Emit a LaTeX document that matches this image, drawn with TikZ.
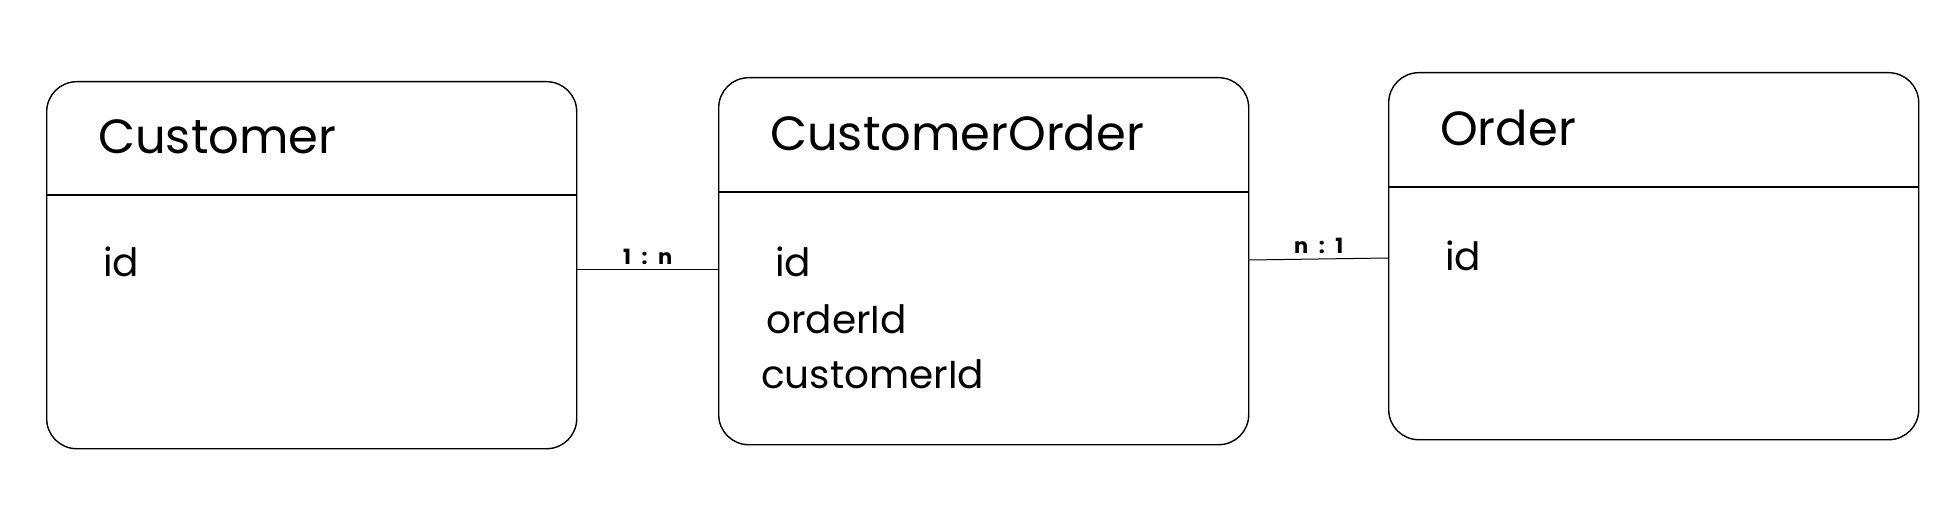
\documentclass[tikz,border=0pt]{standalone}
\usepackage{fontspec}
\setmainfont{Poppins}
\begin{document}
\begin{tikzpicture}[x=1pt,y=-1pt,
  entity/.style={draw=black, line width=1.4pt, rounded corners=30pt, anchor=north west, inner sep=0pt, minimum width=530pt, minimum height=367pt},
  divider/.style={draw=black, line width=1.3pt},
  title/.style={anchor=west, inner sep=0pt, font=\fontsize{48}{56}\selectfont},
  field/.style={anchor=west, inner sep=0pt, font=\fontsize{39}{45}\selectfont},
  link/.style={draw=black, line width=1pt},
  card/.style={inner sep=0pt, font=\fontsize{21}{24}\selectfont\bfseries}]
\useasboundingbox (0,0) rectangle (1950,510);
% boxes
\node[entity] (cust) at (46,81) {};
\node[entity] (co) at (718,77) {};
\node[entity] (ord) at (1388,72) {};
% dividers
\coordinate (custdl) at (46,195); \coordinate (custdr) at (576,195);
\coordinate (codl) at (718,192); \coordinate (codr) at (1248,192);
\coordinate (orddl) at (1388,187); \coordinate (orddr) at (1918,187);
\draw[divider] (custdl) -- (custdr);
\draw[divider] (codl) -- (codr);
\draw[divider] (orddl) -- (orddr);
% titles
\node[title] (tcust) at (98,137) {Customer};
\node[title] (tco) at (770,133) {CustomerOrder};
\node[title] (tord) at (1440,128) {Order};
% fields
\node[field] (fcid) at (103,262) {id};
\node[field] (fcoid) at (775,262) {id};
\node[field] (fcooid) at (766,319) {orderId};
\node[field] (fcocid) at (761,374) {customerId};
\node[field] (foid) at (1445,256) {id};
% connectors
\coordinate (c1) at (0,270);
\coordinate (c2a) at (0,260);
\coordinate (c2b) at (0,258);
\draw[link] (cust.east |- c1) -- node[card, above=5pt] (l1) {1\enspace:\enspace n} (co.west |- c1);
\draw[link] (co.east |- c2a) -- node[card, above=5pt] (l2) {n\enspace:\enspace 1} (ord.west |- c2b);
\end{tikzpicture}
\end{document}
